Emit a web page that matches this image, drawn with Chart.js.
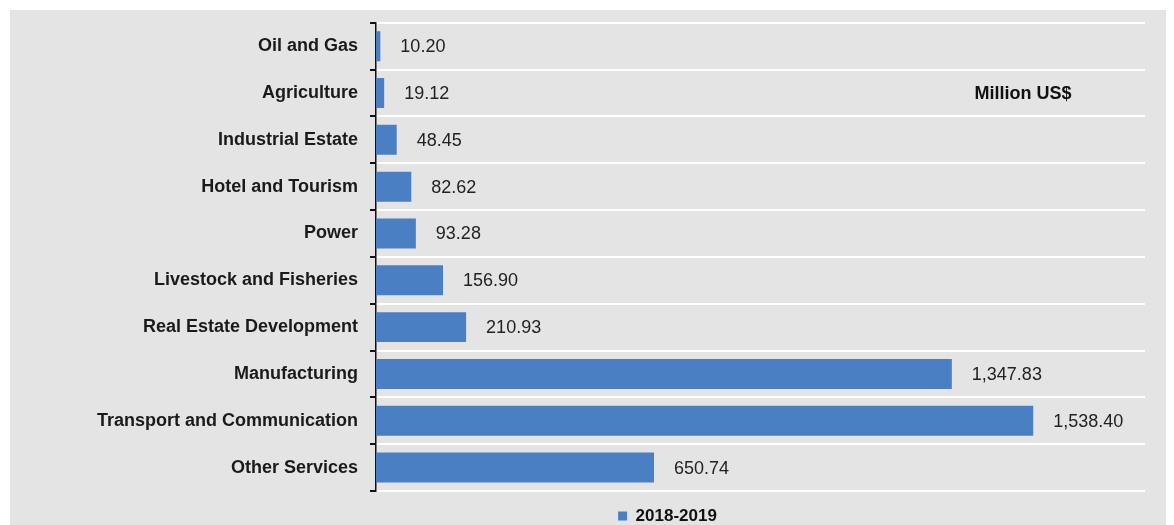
<!DOCTYPE html>
<html>
<head>
<meta charset="utf-8">
<script src="https://cdn.jsdelivr.net/npm/chart.js@4/dist/chart.umd.min.js"></script>
<style>
  html, body { margin: 0; padding: 0; background: #fff; }
  #wrap { width: 1174px; height: 525px; }
</style>
</head>
<body>
<div id="wrap"><canvas id="fdiChart" width="1174" height="525"></canvas></div>
<script>
// sectors, top to bottom
const sectors = [
  "Oil and Gas",
  "Agriculture",
  "Industrial Estate",
  "Hotel and Tourism",
  "Power",
  "Livestock and Fisheries",
  "Real Estate Development",
  "Manufacturing",
  "Transport and Communication",
  "Other Services"
];
const values2018 = [10.20, 19.12, 48.45, 82.62, 93.28, 156.90, 210.93, 1347.83, 1538.40, 650.74];
const seriesLabel = "2018-2019";
const unitLabel = "Million US$";

const barColor = "#4a7fc4";
const fontFamily = "'Liberation Sans', Arial, sans-serif";

// grey panel behind the chart
const panelPlugin = {
  id: "panel",
  beforeDraw(chart) {
    const ctx = chart.ctx;
    ctx.save();
    ctx.fillStyle = "#e4e4e4";
    ctx.fillRect(10, 10, 1156, 515);
    ctx.restore();
  },
  // legend in the original sits right of the page centre
  afterLayout(chart) {
    const lg = chart.legend;
    if (lg) {
      lg.left += 95;
      lg.right += 95;
    }
  }
};

// value labels next to bars + unit note
const labelPlugin = {
  id: "valueLabels",
  afterDatasetsDraw(chart) {
    const ctx = chart.ctx;
    const meta = chart.getDatasetMeta(0);
    ctx.save();
    ctx.font = "18px " + fontFamily;
    ctx.fillStyle = "#222";
    ctx.textAlign = "left";
    ctx.textBaseline = "middle";
    meta.data.forEach((bar, i) => {
      const txt = values2018[i].toLocaleString("en-US", {
        minimumFractionDigits: 2,
        maximumFractionDigits: 2
      });
      ctx.fillText(txt, bar.x + 20, bar.y + 1);
    });

    // "Million US$" sits in the second row
    const yScale = chart.scales.y;
    ctx.font = "bold 18px " + fontFamily;
    ctx.fillStyle = "#111";
    ctx.textAlign = "center";
    ctx.fillText(unitLabel, 1023, yScale.getPixelForValue(1) + 1);
    ctx.restore();
  }
};

const ctx = document.getElementById("fdiChart").getContext("2d");

new Chart(ctx, {
  type: "bar",
  data: {
    labels: sectors,
    datasets: [
      {
        label: seriesLabel,
        data: values2018,
        backgroundColor: barColor,
        borderWidth: 0,
        barPercentage: 0.64,
        categoryPercentage: 1
      }
    ]
  },
  options: {
    indexAxis: "y",
    responsive: false,
    animation: false,
    layout: {
      padding: { left: 0, right: 29, top: 21, bottom: -9.5 }
    },
    scales: {
      x: {
        display: false,
        min: 0,
        max: 1800
      },
      y: {
        afterFit(scale) {
          scale.width = 376;
        },
        border: { display: true, color: "#111", width: 1.5 },
        grid: {
          color: "#ffffff",
          lineWidth: 2,
          offset: true,
          tickColor: "#111",
          tickLength: 6
        },
        ticks: {
          color: "#1a1a1a",
          padding: 12,
          font: { family: fontFamily, size: 18, weight: "bold" }
        }
      }
    },
    plugins: {
      legend: {
        position: "bottom",
        labels: {
          boxWidth: 9,
          boxHeight: 9,
          padding: 16.5,
          color: "#111",
          font: { family: fontFamily, size: 17, weight: "bold" }
        }
      },
      tooltip: { enabled: false }
    }
  },
  plugins: [panelPlugin, labelPlugin]
});
</script>
</body>
</html>
